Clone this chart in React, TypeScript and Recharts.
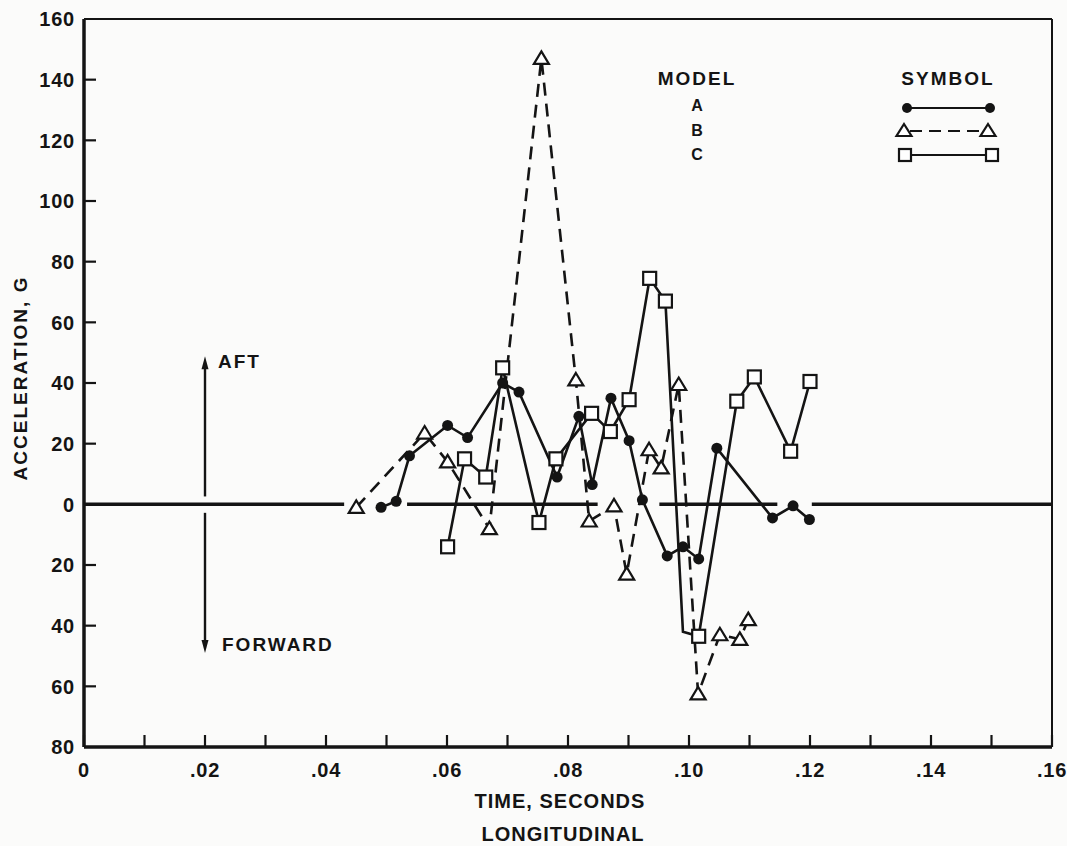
import React from "react";
import { LineChart, Line, XAxis, YAxis, ReferenceLine } from "recharts";

// model A: filled circles, solid line
const timeA = [0.0491, 0.0516, 0.0538, 0.0601, 0.0634, 0.0692, 0.0719, 0.0782, 0.0818, 0.084, 0.0871, 0.0901, 0.0923, 0.0964, 0.099, 0.1016, 0.1046, 0.1138, 0.1172, 0.1199];
const accelA = [-1, 1, 16, 26, 22, 40, 37, 9, 29, 6.5, 35, 21, 1.5, -17, -14, -18, 18.5, -4.5, -0.5, -5];

// model B: open triangles, dashed line
const timeB = [0.045, 0.0563, 0.0601, 0.067, 0.0756, 0.0813, 0.0835, 0.0876, 0.0897, 0.0934, 0.0954, 0.0983, 0.1015, 0.1051, 0.1084, 0.1098];
const accelB = [-1, 23.5, 14, -8, 147, 41, -5.5, -0.5, -23, 18, 12, 39.5, -62.5, -43, -44.5, -38];

// model C: open squares, solid line
const timeC = [0.0601, 0.0629, 0.0664, 0.0692, 0.0752, 0.078, 0.0839, 0.087, 0.0901, 0.0935, 0.0961, 0.099, 0.1016, 0.1079, 0.1108, 0.1168, 0.12];
const accelC = [-14, 15, 9, 45, -6, 15, 30, 24, 34.5, 74.5, 67, -42, -43.5, 34, 42, 17.5, 40.5];
const hiddenC = [11]; // corner of the line, no symbol drawn

const xTicks = [0, 0.01, 0.02, 0.03, 0.04, 0.05, 0.06, 0.07, 0.08, 0.09, 0.1, 0.11, 0.12, 0.13, 0.14, 0.15, 0.16];
const xTickLabels = ["0", "", ".02", "", ".04", "", ".06", "", ".08", "", ".10", "", ".12", "", ".14", "", ".16"];
const yTicks = [-80, -60, -40, -20, 0, 20, 40, 60, 80, 100, 120, 140, 160];

// the zero line is broken where the curves start and end
const zeroSegments = [
  [0, 0.043],
  [0.0534, 0.0849],
  [0.0951, 0.1146],
  [0.1203, 0.16],
];

const toPoints = (xs: number[], ys: number[]) => xs.map((x, i) => ({ x, y: ys[i] }));
const dataA = toPoints(timeA, accelA);
const dataB = toPoints(timeB, accelB);
const dataC = toPoints(timeC, accelC);

const FONT = "'Liberation Sans', Arial, Helvetica, sans-serif";
const INK = "#141414";

const CircleDot = (p: any) => (
  <circle key={`a-${p.index}`} cx={p.cx} cy={p.cy} r={5.5} fill={INK} />
);

const TriangleDot = (p: any) => (
  <path
    key={`b-${p.index}`}
    d={`M${p.cx},${p.cy - 7} L${p.cx + 7.5},${p.cy + 5.5} L${p.cx - 7.5},${p.cy + 5.5} Z`}
    fill="#fff"
    stroke={INK}
    strokeWidth={2.2}
  />
);

const SquareDot = (p: any) =>
  hiddenC.includes(p.index) ? (
    <g key={`c-${p.index}`} />
  ) : (
    <rect key={`c-${p.index}`} x={p.cx - 6.5} y={p.cy - 6.5} width={13} height={13} fill="#fff" stroke={INK} strokeWidth={2.2} />
  );

const XTick = (p: any) => {
  const i = xTicks.indexOf(p.payload.value);
  const top = p.y - 16;
  return (
    <g>
      <line x1={p.x} x2={p.x} y1={top} y2={top - 12} stroke={INK} strokeWidth={2.2} />
      <text x={p.x} y={p.y} dy="0.71em" textAnchor="middle" fontFamily={FONT} fontWeight="bold" fontSize={20} letterSpacing={0.8} fill={INK}>
        {xTickLabels[i]}
      </text>
    </g>
  );
};

const YTick = (p: any) => {
  const axisX = p.x + 9;
  const v = p.payload.value;
  return (
    <g>
      {v !== -80 && v !== 160 && v !== 0 && (
        <line x1={axisX} x2={axisX + 12} y1={p.y} y2={p.y} stroke={INK} strokeWidth={2.2} />
      )}
      <text x={p.x} y={p.y} dy="0.36em" textAnchor="end" fontFamily={FONT} fontWeight="bold" fontSize={20} letterSpacing={0.8} fill={INK}>
        {Math.abs(v)}
      </text>
    </g>
  );
};

const arrowShape = (label: string, dx: number, dy: number) => (p: any) => {
  const { x1, y1, x2, y2 } = p;
  const dir = y2 < y1 ? -1 : 1;
  return (
    <g>
      <line x1={x1} y1={y1} x2={x2} y2={y2 - dir * 8} stroke={INK} strokeWidth={2.4} />
      <path d={`M${x2},${y2} L${x2 - 3.5},${y2 - dir * 13} L${x2 + 3.5},${y2 - dir * 13} Z`} fill={INK} />
      <text x={x2 + dx} y={y2 + dy} dy="0.36em" fontFamily={FONT} fontWeight="bold" fontSize={19} letterSpacing={2} fill={INK}>
        {label}
      </text>
    </g>
  );
};

const yTitle = (p: any) => {
  const vb = p.viewBox;
  const cx = vb.x - 4;
  const cy = vb.y + vb.height / 2 - 5;
  return (
    <text x={cx} y={cy} transform={`rotate(-90, ${cx}, ${cy})`} textAnchor="middle" dy="0.36em" fontFamily={FONT} fontWeight="bold" fontSize={19} letterSpacing={2} fill={INK}>
      ACCELERATION, G
    </text>
  );
};

const xTitle = (p: any) => {
  const vb = p.viewBox;
  const cx = vb.x + vb.width / 2 - 8;
  return (
    <g>
      <text x={cx} y={801} dy="0.36em" textAnchor="middle" fontFamily={FONT} fontWeight="bold" fontSize={20} letterSpacing={1} fill={INK}>
        TIME, SECONDS
      </text>
      <text x={cx + 3} y={834} dy="0.36em" textAnchor="middle" fontFamily={FONT} fontWeight="bold" fontSize={20} letterSpacing={1} fill={INK}>
        LONGITUDINAL
      </text>
    </g>
  );
};

const Key = () => (
  <svg width={1067} height={846} style={{ position: "absolute", left: 0, top: 0, pointerEvents: "none" }}>
    <g fontFamily={FONT} fontWeight="bold" fill={INK}>
      <text x={697} y={78} dy="0.36em" textAnchor="middle" fontSize={19} letterSpacing={2}>MODEL</text>
      <text x={948} y={78} dy="0.36em" textAnchor="middle" fontSize={19} letterSpacing={2}>SYMBOL</text>
      <text x={697} y={105} dy="0.36em" textAnchor="middle" fontSize={16}>A</text>
      <text x={697} y={130} dy="0.36em" textAnchor="middle" fontSize={16}>B</text>
      <text x={697} y={154} dy="0.36em" textAnchor="middle" fontSize={16}>C</text>
    </g>
    <line x1={907} x2={990} y1={108} y2={108} stroke={INK} strokeWidth={2.2} />
    <circle cx={907} cy={108} r={5} fill={INK} />
    <circle cx={990} cy={108} r={5} fill={INK} />
    <line x1={910} x2={982} y1={131} y2={131} stroke={INK} strokeWidth={2.2} strokeDasharray="12 7" />
    <path d="M904,124 L911.5,136 L896.5,136 Z" fill="#fff" stroke={INK} strokeWidth={2.2} />
    <path d="M988,124 L995.5,136 L980.5,136 Z" fill="#fff" stroke={INK} strokeWidth={2.2} />
    <line x1={911} x2={986} y1={155} y2={155} stroke={INK} strokeWidth={2.2} />
    <rect x={899} y={149} width={12} height={12} fill="#fff" stroke={INK} strokeWidth={2.2} />
    <rect x={986} y={149} width={12} height={12} fill="#fff" stroke={INK} strokeWidth={2.2} />
  </svg>
);

export default function App() {
  return (
    <div style={{ position: "absolute", left: 0, top: 0, width: 1067, height: 846, background: "#fbfbfa" }}>
      <LineChart width={1067} height={846} margin={{ top: 19, right: 15, left: 24, bottom: 59 }}>
        <XAxis
          type="number"
          dataKey="x"
          domain={[0, 0.16]}
          ticks={xTicks}
          interval={0}
          height={40}
          tickSize={0}
          tickMargin={16}
          tick={XTick}
          axisLine={{ stroke: INK, strokeWidth: 3.5 }}
          label={xTitle}
        />
        <YAxis
          type="number"
          dataKey="y"
          domain={[-80, 160]}
          ticks={yTicks}
          interval={0}
          width={60}
          tickSize={0}
          tickMargin={9}
          tick={YTick}
          axisLine={{ stroke: INK, strokeWidth: 3.5 }}
          label={yTitle}
        />
        <ReferenceLine y={160} stroke={INK} strokeWidth={2} />
        <ReferenceLine x={0.16} stroke={INK} strokeWidth={2} />
        {zeroSegments.map(([a, b], i) => (
          <ReferenceLine
            key={`z-${i}`}
            segment={[{ x: a, y: 0 }, { x: b, y: 0 }]}
            stroke={INK}
            strokeWidth={3.5}
          />
        ))}
        <ReferenceLine
          segment={[{ x: 0.02, y: 2.6 }, { x: 0.02, y: 48.8 }]}
          shape={arrowShape("AFT", 13, 5)}
        />
        <ReferenceLine
          segment={[{ x: 0.02, y: -2.8 }, { x: 0.02, y: -49 }]}
          shape={arrowShape("FORWARD", 17, -9)}
        />
        <Line data={dataA} dataKey="y" type="linear" stroke={INK} strokeWidth={2.6} dot={CircleDot} isAnimationActive={false} />
        <Line data={dataB} dataKey="y" type="linear" stroke={INK} strokeWidth={2.6} strokeDasharray="13 8" dot={TriangleDot} isAnimationActive={false} />
        <Line data={dataC} dataKey="y" type="linear" stroke={INK} strokeWidth={2.6} dot={SquareDot} isAnimationActive={false} />
      </LineChart>
      <Key />
    </div>
  );
}
